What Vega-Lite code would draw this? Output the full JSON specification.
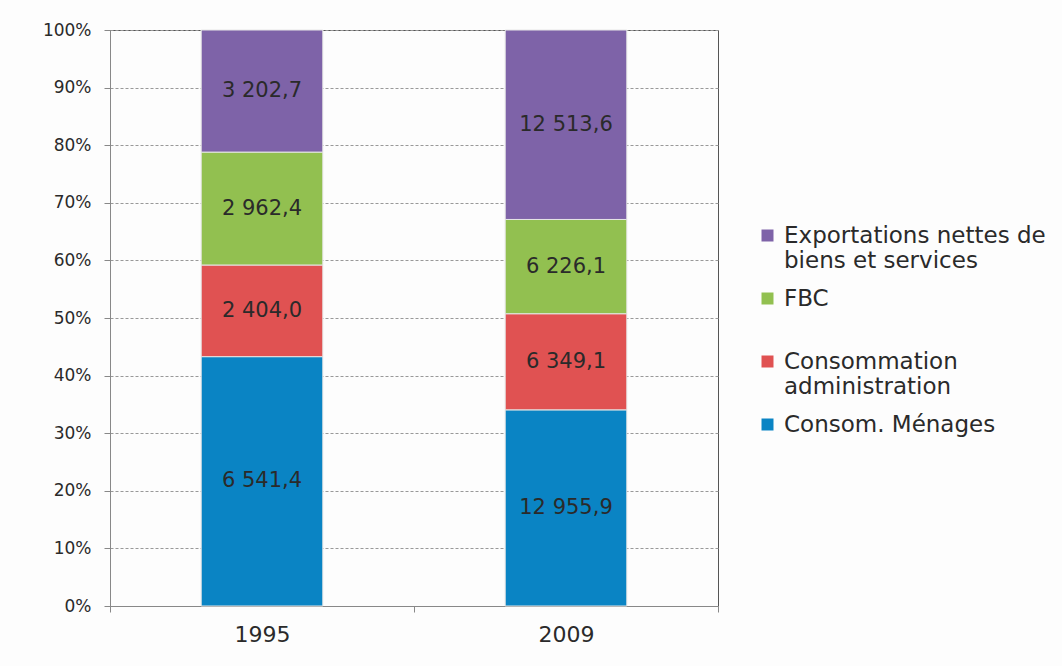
{
  "$schema": "https://vega.github.io/schema/vega-lite/v6.json",
  "autosize": {"type": "none"},
  "width": 608,
  "height": 576,
  "padding": {"left": 110, "top": 30, "right": 344, "bottom": 60},
  "background": "#fdfdfd",
  "config": {
    "locale": {"number": {"decimal": ",", "thousands": " ", "grouping": [3], "currency": ["", " €"]}},
    "font": "DejaVu Sans",
    "view": {"stroke": "#555555", "strokeWidth": 1}
  },
  "data": {
    "values": [
      {"annee": "1995", "poste": "Consom. Ménages", "ordre": 1, "valeur": 6541.4},
      {"annee": "1995", "poste": "Consommation administration", "ordre": 2, "valeur": 2404.0},
      {"annee": "1995", "poste": "FBC", "ordre": 3, "valeur": 2962.4},
      {"annee": "1995", "poste": "Exportations nettes de biens et services", "ordre": 4, "valeur": 3202.7},
      {"annee": "2009", "poste": "Consom. Ménages", "ordre": 1, "valeur": 12955.9},
      {"annee": "2009", "poste": "Consommation administration", "ordre": 2, "valeur": 6349.1},
      {"annee": "2009", "poste": "FBC", "ordre": 3, "valeur": 6226.1},
      {"annee": "2009", "poste": "Exportations nettes de biens et services", "ordre": 4, "valeur": 12513.6}
    ]
  },
  "encoding": {
    "x": {
      "field": "annee", "type": "nominal",
      "scale": {"paddingInner": 0, "paddingOuter": 0},
      "axis": {
        "title": null, "labelAngle": 0, "labelFontSize": 22, "labelColor": "#2a2a2a",
        "labelPadding": 12, "domainColor": "#888888", "tickColor": "#888888",
        "tickBand": "extent", "tickSize": 6, "grid": false
      }
    },
    "order": {"field": "ordre", "type": "quantitative", "sort": "ascending"}
  },
  "layer": [
    {
      "mark": {"type": "bar", "stroke": "#e6e6e6", "strokeWidth": 1, "width": {"band": 0.4}},
      "encoding": {
        "y": {
          "field": "valeur", "type": "quantitative", "stack": "normalize",
          "scale": {"domain": [0, 1]},
          "axis": {
            "title": null, "format": ".0%", "values": [0, 0.1, 0.2, 0.3, 0.4, 0.5, 0.6, 0.7, 0.8, 0.9, 1],
            "labelFontSize": 17, "labelColor": "#2a2a2a", "labelPadding": 13,
            "domainColor": "#888888", "tickColor": "#888888", "tickSize": 6,
            "gridColor": "#999999", "gridDash": [3, 2], "gridWidth": 1
          }
        },
        "color": {
          "field": "poste", "type": "nominal",
          "scale": {
            "domain": ["Exportations nettes de biens et services", "FBC", "Consommation administration", "Consom. Ménages"],
            "range": ["#7E63A8", "#92C050", "#E05252", "#0A84C4"]
          },
          "legend": {
            "title": null, "orient": "none", "legendX": 646, "legendY": 194,
            "symbolType": "square", "symbolSize": 144, "symbolStrokeWidth": 0,
            "labelFontSize": 23, "labelColor": "#2a2a2a", "labelOffset": 5, "labelLimit": 400,
            "rowPadding": 14,
            "labelExpr": "datum.label == 'Exportations nettes de biens et services' ? ['Exportations nettes de', 'biens et services'] : datum.label == 'Consommation administration' ? ['Consommation', 'administration'] : datum.label == 'FBC' ? ['FBC', ' '] : datum.label"
          }
        }
      }
    },
    {
      "mark": {"type": "text", "fontSize": 21, "color": "#2a2a2a", "baseline": "middle"},
      "encoding": {
        "y": {
          "field": "valeur", "type": "quantitative", "stack": "normalize", "bandPosition": 0.5,
          "scale": {"domain": [0, 1]},
          "axis": {
            "title": null, "format": ".0%", "values": [0, 0.1, 0.2, 0.3, 0.4, 0.5, 0.6, 0.7, 0.8, 0.9, 1],
            "labelFontSize": 17, "labelColor": "#2a2a2a", "labelPadding": 13,
            "domainColor": "#888888", "tickColor": "#888888", "tickSize": 6,
            "gridColor": "#999999", "gridDash": [3, 2], "gridWidth": 1
          }
        },
        "text": {"field": "valeur", "type": "quantitative", "format": ",.1f"}
      }
    }
  ]
}
